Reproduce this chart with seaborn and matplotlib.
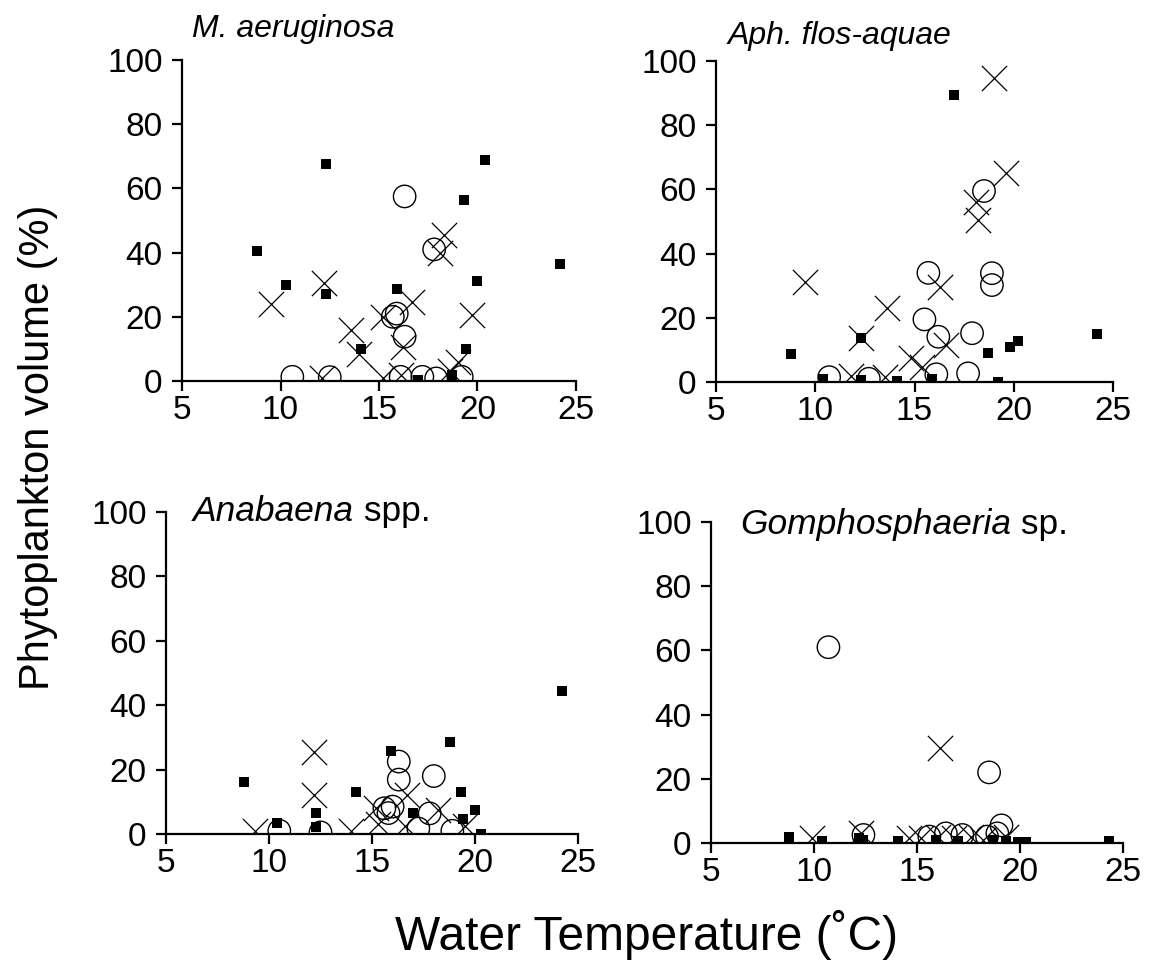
import matplotlib
matplotlib.use("Agg")
import matplotlib.pyplot as plt
import seaborn as sns
import pandas as pd

sns.set_style("ticks")
plt.rcParams["font.family"] = ["Liberation Sans", "DejaVu Sans"]
plt.rcParams["text.color"] = "black"
plt.rcParams["axes.edgecolor"] = "black"
plt.rcParams["xtick.color"] = "black"
plt.rcParams["ytick.color"] = "black"

# ---------------- data (temperature °C, phytoplankton volume %) ----------------
# Panel 1: M. aeruginosa
ma_sq_t = [8.8, 10.3, 12.3, 12.3, 14.1, 15.9, 17.0, 18.7, 19.3, 19.4, 20.0, 20.4, 24.2]
ma_sq_v = [40.5, 30, 67.5, 27, 10, 28.7, 0.3, 2, 56.5, 10, 31, 69, 36.5]
ma_ci_t = [16.3, 17.8, 15.7, 15.9, 16.3, 10.6, 12.5, 16.1, 17.2, 17.9, 19.2]
ma_ci_v = [57.5, 41, 20, 21, 13.8, 1.3, 1.2, 1.3, 1.3, 0.8, 1.3]
ma_x_t = [9.5, 12.2, 13.6, 14.0, 15.2, 16.7, 16.2, 18.3, 18.1, 19.7, 19.0, 12.1, 16.1, 18.6, 15.2]
ma_x_v = [24, 30.5, 16, 8.5, 20, 24.7, 10.5, 45.5, 40, 20.5, 6, 1, 2, 3, 1]

# Panel 2: Aph. flos-aquae
af_sq_t = [8.8, 10.4, 12.3, 12.3, 14.1, 15.9, 17.0, 18.7, 19.2, 19.8, 20.2, 24.2]
af_sq_v = [8.7, 1, 13.6, 0.5, 0.3, 1, 89.5, 9.1, 0, 11, 12.8, 15]
af_ci_t = [15.7, 18.9, 18.9, 18.5, 15.5, 16.2, 17.9, 17.7, 10.7, 12.7, 16.1]
af_ci_v = [34, 33.9, 30.2, 59.5, 19.5, 14.1, 15.2, 2.7, 1.5, 1, 2.4]
af_x_t = [9.5, 13.6, 12.3, 16.3, 16.6, 15.4, 14.8, 11.8, 13.5, 19.0, 19.6, 18.1, 18.2]
af_x_v = [31.2, 23.2, 13.6, 29.7, 11.5, 4.8, 7.4, 2, 1.5, 94.6, 65, 56, 50.5]

# Panel 3: Anabaena spp.
an_sq_t = [8.8, 10.4, 12.3, 12.3, 14.2, 15.9, 17.0, 18.8, 19.3, 20.0, 19.4, 20.3, 24.2]
an_sq_v = [16.2, 3.3, 6.4, 2.3, 13.1, 25.9, 6.6, 28.7, 13.1, 7.6, 4.8, 0, 44.5]
an_ci_t = [16.3, 16.3, 18.0, 15.6, 16.0, 15.8, 17.8, 17.25, 10.5, 12.5, 18.9]
an_ci_v = [22.5, 16.9, 18, 8, 8.5, 6.5, 6.4, 1.7, 1, 0.5, 1]
an_x_t = [12.2, 12.2, 15.2, 16.7, 18.2, 9.3, 14.0, 16.6, 19.5, 15.3]
an_x_v = [25.5, 12.1, 8, 12.1, 7.5, 1, 1, 2.5, 2.5, 3]

# Panel 4: Gomphosphaeria sp.
go_sq_t = [8.8, 10.4, 12.2, 12.4, 14.1, 15.9, 17.0, 18.7, 19.3, 19.9, 20.3, 24.3]
go_sq_v = [2, 0.5, 1.5, 0.8, 0.5, 1, 0.5, 1, 0.5, 0.3, 0.2, 0.5]
go_ci_t = [10.7, 18.5, 19.1, 12.4, 15.6, 16.4, 17.2, 18.4, 18.9]
go_ci_v = [61, 22, 5.5, 2.5, 2, 3, 2.5, 2, 3]
go_x_t = [16.1, 9.9, 12.3, 14.6, 15.2, 16.0, 16.8, 17.6, 18.2, 19.3]
go_x_v = [29.5, 1.5, 3, 1.5, 1.5, 2, 1.5, 2, 1, 2]

panel_titles = [("M. aeruginosa", ""), ("Aph. flos-aquae", ""),
                ("Anabaena", " spp."), ("Gomphosphaeria", " sp.")]
x_ticks = [5, 10, 15, 20, 25]
y_ticks = [0, 20, 40, 60, 80, 100]
x_label = "Water Temperature (˚C)"
y_label = "Phytoplankton volume (%)"

panels = [
    (ma_sq_t, ma_sq_v, ma_ci_t, ma_ci_v, ma_x_t, ma_x_v),
    (af_sq_t, af_sq_v, af_ci_t, af_ci_v, af_x_t, af_x_v),
    (an_sq_t, an_sq_v, an_ci_t, an_ci_v, an_x_t, an_x_v),
    (go_sq_t, go_sq_v, go_ci_t, go_ci_v, go_x_t, go_x_v),
]

# ---------------- layout ----------------
W, H = 1155, 974
fig = plt.figure(figsize=(W / 100, H / 100), dpi=100)


def rect(l, t, r, b):
    return [l / W, 1 - b / H, (r - l) / W, (b - t) / H]


boxes = [(182, 60, 576, 381), (716, 61, 1113, 382),
         (166, 512, 578, 834), (711, 522, 1123, 843)]
title_pos = [(192, 37), (728, 44), (193, 521), (740, 534)]
title_size = [23, 23, 25.5, 25.5]

for i, (box, data) in enumerate(zip(boxes, panels)):
    ax = fig.add_axes(rect(*box))
    sq_t, sq_v, ci_t, ci_v, x_t, x_v = data
    sns.scatterplot(x=x_t, y=x_v, ax=ax, marker="x", color="black",
                    s=330, linewidth=0.9, zorder=2)
    sns.scatterplot(x=ci_t, y=ci_v, ax=ax, marker="o", facecolor="none",
                    edgecolor="black", s=260, linewidth=1.0, zorder=3)
    sns.scatterplot(x=sq_t, y=sq_v, ax=ax, marker="s", color="black",
                    s=60, linewidth=0, zorder=4)
    ax.set_xlim(5, 25)
    ax.set_ylim(0, 100)
    ax.set_xticks(x_ticks)
    ax.set_yticks(y_ticks)
    ax.set_xlabel("")
    ax.set_ylabel("")
    sns.despine(ax=ax)
    for sp in ("left", "bottom"):
        ax.spines[sp].set_linewidth(1.6)
        ax.spines[sp].set_color("black")
    ax.tick_params(axis="both", direction="out", length=7, width=1.6,
                   labelsize=24, color="black", labelcolor="black")
    ax.tick_params(axis="y", pad=7)
    ax.tick_params(axis="x", pad=3)

    it, rest = panel_titles[i]
    tx, ty = title_pos[i]
    fs = title_size[i]
    t1 = fig.text(tx / W, 1 - ty / H, it, fontsize=fs, style="italic",
                  va="baseline", ha="left", color="black")
    if rest:
        ax.annotate(rest, xy=(1, 0), xycoords=t1, fontsize=fs,
                    va="bottom", ha="left", annotation_clip=False,
                    color="black")

fig.text(647 / W, 1 - 935 / H, x_label, fontsize=34.5, ha="center",
         va="center", color="black")
fig.text(38 / W, 1 - 447 / H, y_label, fontsize=30, ha="center", va="center",
         rotation=90, color="black")

fig.savefig("out.png", dpi=100, facecolor="white")
